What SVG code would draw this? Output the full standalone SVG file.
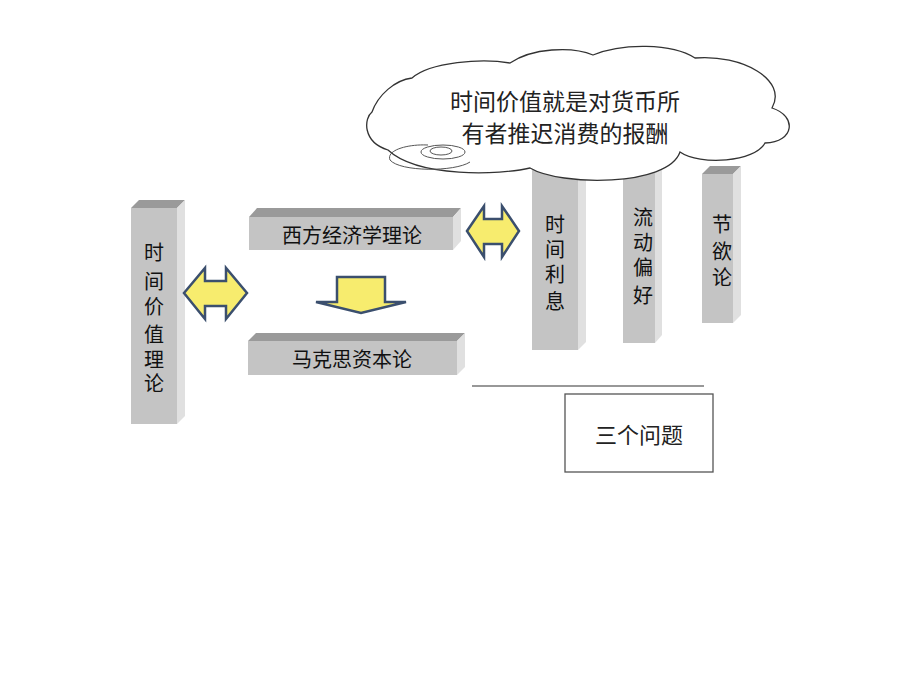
<svg xmlns="http://www.w3.org/2000/svg" width="920" height="690" viewBox="0 0 920 690">
<defs>
<style>
.front{fill:#c4c4c4}
.top{fill:#9a9a9a}
.side{fill:#e0e0e0}
.t{font-family:"Liberation Sans","Noto Sans CJK SC",sans-serif;font-size:20px;fill:#111;text-anchor:middle}
.c{font-family:"Noto Sans CJK SC",sans-serif;font-size:23px;fill:#222;text-anchor:middle}
.arrow{fill:#f7ec6e;stroke:#3b4f6e;stroke-width:2.5;stroke-linejoin:miter}
</style>
</defs>
<rect width="920" height="690" fill="#fff"/>

<g id="bar-left">
<polygon class="top" points="131,208 139,200 185,200 177,208"/>
<polygon class="side" points="177,208 185,200 185,416 177,424"/>
<rect class="front" x="131" y="208" width="46" height="216"/>
<text class="t" x="154" y="260">时</text>
<text class="t" x="154" y="289">间</text>
<text class="t" x="154" y="314">价</text>
<text class="t" x="154" y="342">值</text>
<text class="t" x="154" y="367">理</text>
<text class="t" x="154" y="391">论</text>
</g>

<g id="bar-west">
<polygon class="top" points="249,217 257,208 461,208 453,217"/>
<polygon class="side" points="453,217 461,208 461,241 453,250"/>
<rect class="front" x="249" y="217" width="204" height="33"/>
<text class="t" x="352" y="243">西方经济学理论</text>
</g>

<g id="bar-marx">
<polygon class="top" points="248,341 256,333 465,333 457,341"/>
<polygon class="side" points="457,341 465,333 465,367 457,375"/>
<rect class="front" x="248" y="341" width="209" height="34"/>
<text class="t" x="352" y="367">马克思资本论</text>
</g>

<g id="bar-time-interest">
<polygon class="top" points="532,170 540,162 586,162 578,170"/>
<polygon class="side" points="578,170 586,162 586,342 578,350"/>
<rect class="front" x="532" y="170" width="46" height="180"/>
<text class="t" x="555" y="232">时</text>
<text class="t" x="555" y="257">间</text>
<text class="t" x="555" y="282">利</text>
<text class="t" x="555" y="309">息</text>
</g>

<g id="bar-liquidity">
<polygon class="top" points="623,165 631,157 662,157 655,165"/>
<polygon class="side" points="655,165 662,157 662,335 655,343"/>
<rect class="front" x="623" y="165" width="32" height="178"/>
<text class="t" x="643" y="225">流</text>
<text class="t" x="643" y="250">动</text>
<text class="t" x="643" y="275">偏</text>
<text class="t" x="643" y="303">好</text>
</g>

<g id="bar-abstinence">
<polygon class="top" points="702,174 710,166 741,166 733,174"/>
<polygon class="side" points="733,174 741,166 741,315 733,323"/>
<rect class="front" x="702" y="174" width="31" height="149"/>
<text class="t" x="722" y="232">节</text>
<text class="t" x="722" y="259">欲</text>
<text class="t" x="722" y="285">论</text>
</g>

<g id="connectors">
<polygon class="arrow" points="184,293 205,268 205,281 226,281 226,268 247,293 226,319 226,306 205,306 205,319"/>
<polygon class="arrow" points="467,231 484,206 484,219 502,219 502,206 519,231 502,257 502,244 484,244 484,257"/>
<polygon class="arrow" points="337,277 385,277 385,302 406,302 361,313 316,302 337,302"/>
<line x1="472" y1="386" x2="704" y2="386" stroke="#333" stroke-width="1.2"/>
</g>

<g id="cloud">
<path d="M388,150 C362,142 364,118 372,112 C378,95 395,80 412,78 C430,62 482,58 510,63 C532,48 572,46 593,55 C622,43 672,43 695,58 C742,54 788,80 772,108 C797,116 795,142 765,143 C755,162 700,166 680,152 C668,187 560,186 530,168 C500,175 418,178 388,150 Z" fill="#fff" stroke="#333" stroke-width="1.3"/>
<path d="M470,162 C455,172 400,172 390,160 C386,150 408,144 428,145" fill="none" stroke="#555" stroke-width="1"/>
<ellipse cx="443" cy="152" rx="22" ry="7" fill="#fff" stroke="#555" stroke-width="1"/>
<ellipse cx="441" cy="151" rx="11" ry="4" fill="#fff" stroke="#555" stroke-width="1"/>
<text class="c" x="565" y="110">时间价值就是对货币所</text>
<text class="c" x="565" y="142">有者推迟消费的报酬</text>
</g>

<g id="three-questions">
<rect x="565" y="394" width="148" height="78" fill="#fff" stroke="#555" stroke-width="1.3"/>
<text class="c" x="639" y="443" style="font-size:22px">三个问题</text>
</g>
</svg>
